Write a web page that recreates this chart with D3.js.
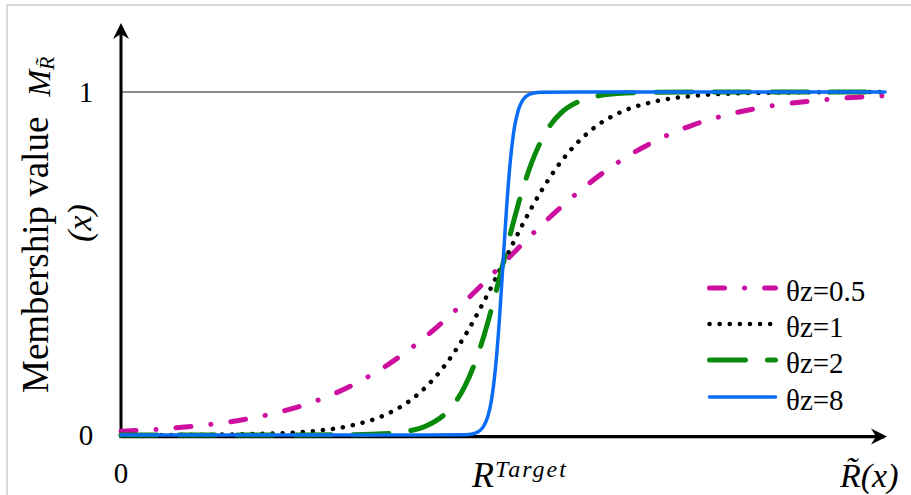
<!DOCTYPE html>
<html>
<head>
<meta charset="utf-8">
<script src="https://cdn.jsdelivr.net/npm/d3@7"></script>
<style>
  body { margin: 0; background: #fff; }
  text { font-family: "Liberation Serif", "Times New Roman", serif; fill: #000; }
</style>
</head>
<body>
<div id="chart"></div>
<script>
// values (x from 0 to 10, R target at 5)
var seriesNames = ["θz=0.5", "θz=1", "θz=2", "θz=8"];

var xPink = [0, 0.5, 1, 1.5, 2, 2.5, 3, 3.5, 4, 4.5, 5, 5.5, 6, 6.5, 7, 7.5, 8, 8.5, 9, 9.5, 10];
var yPink = [0.011, 0.017, 0.027, 0.041, 0.063, 0.095, 0.142, 0.206, 0.289, 0.389, 0.5,
             0.611, 0.711, 0.794, 0.858, 0.905, 0.937, 0.959, 0.973, 0.983, 0.989];

var xBlack = [0, 1, 2, 2.5, 3, 3.5, 3.75, 4, 4.25, 4.5, 4.75, 5, 5.25, 5.5, 5.75, 6, 6.25, 6.5, 7, 7.5, 8, 9, 10];
var yBlack = [0, 0.0007, 0.0045, 0.011, 0.027, 0.063, 0.095, 0.142, 0.206, 0.289, 0.389, 0.5,
              0.611, 0.711, 0.794, 0.858, 0.905, 0.937, 0.973, 0.989, 0.9955, 0.9993, 1];

var xGreen = [0, 2, 3, 3.5, 3.75, 4, 4.25, 4.375, 4.5, 4.625, 4.75, 4.875, 5, 5.125, 5.25, 5.375,
              5.5, 5.625, 5.75, 6, 6.25, 6.5, 7, 8, 10];
var yGreen = [0, 0, 0.0007, 0.0045, 0.011, 0.027, 0.063, 0.095, 0.142, 0.206, 0.289, 0.389, 0.5,
              0.611, 0.711, 0.794, 0.858, 0.905, 0.937, 0.973, 0.989, 0.9955, 0.9993, 1, 1];

var xBlue = [0, 4, 4.5, 4.6, 4.7, 4.75, 4.8, 4.85, 4.9, 4.95, 5, 5.05, 5.1, 5.15, 5.2, 5.25, 5.3, 5.4, 5.5, 6, 10];
var yBlue = [0, 0, 0.0007, 0.003, 0.013, 0.027, 0.053, 0.103, 0.192, 0.327, 0.5,
             0.673, 0.808, 0.897, 0.947, 0.973, 0.987, 0.997, 0.9993, 1, 1];

var yTicks = [0, 1];

width = 911;
height = 495;

var svg = d3.select("div#chart")
  .append("svg")
  .attr("width", width)
  .attr("height", height);

x = d3.scaleLinear().domain([0, 10]).range([121, 885]);
y = d3.scaleLinear().domain([0, 1]).range([435, 92]);

// light frame, only top and left show
svg.append("path")
  .attr("d", "M7,495 L7,5 L911,5")
  .attr("fill", "none")
  .attr("stroke", "#d9d9d9")
  .attr("stroke-width", 2);

// grey line at 1 and grey base line
svg.append("line")
  .attr("x1", x(0)).attr("x2", x(10))
  .attr("y1", y(1)).attr("y2", y(1))
  .attr("stroke", "#8c8c8c")
  .attr("stroke-width", 2);

svg.append("line")
  .attr("x1", x(0)).attr("x2", x(10))
  .attr("y1", y(0) + 3.5).attr("y2", y(0) + 3.5)
  .attr("stroke", "#bbbbbb")
  .attr("stroke-width", 1);

// axes with arrow heads
svg.append("line")
  .attr("x1", x(0)).attr("x2", x(0))
  .attr("y1", y(0) + 3).attr("y2", 34)
  .attr("stroke", "#000")
  .attr("stroke-width", 3);
svg.append("path")
  .attr("d", "M121,23 L129,39 L121,34 L113,39 Z")
  .attr("fill", "#000");

svg.append("line")
  .attr("x1", x(0) - 1.5).attr("x2", 876)
  .attr("y1", y(0) + 1.5).attr("y2", y(0) + 1.5)
  .attr("stroke", "#000")
  .attr("stroke-width", 3);
svg.append("path")
  .attr("d", "M887,436.5 L871,444.5 L876,436.5 L871,428.5 Z")
  .attr("fill", "#000");

// tick labels
svg.selectAll("text.ytick")
  .data(yTicks)
  .join("text")
  .attr("class", "ytick")
  .attr("x", 86)
  .attr("y", (d) => y(d) + 10)
  .attr("text-anchor", "middle")
  .style("font-size", "29px")
  .text((d) => d);

svg.append("text")
  .attr("x", x(0))
  .attr("y", 483)
  .attr("text-anchor", "middle")
  .style("font-size", "29px")
  .text("0");

// x labels
var rt = svg.append("text")
  .attr("x", 472)
  .attr("y", 487)
  .style("font-size", "36px")
  .style("font-style", "italic");
rt.append("tspan").text("R");
rt.append("tspan")
  .attr("dy", -10)
  .attr("dx", 1)
  .style("font-size", "24px")
  .style("letter-spacing", "2px")
  .text("Target");

svg.append("text")
  .attr("x", 840)
  .attr("y", 487)
  .style("font-size", "34px")
  .style("font-style", "italic")
  .text("R\u0303(x)");

// y label, two lines
var yl = svg.append("text")
  .attr("transform", "translate(48,393) rotate(-90)")
  .style("font-size", "37px");
yl.append("tspan").text("Membership value");
yl.append("tspan")
  .attr("dx", 20)
  .attr("dy", 2)
  .style("font-size", "32px")
  .style("font-style", "italic")
  .text("M");
yl.append("tspan")
  .attr("dy", 4)
  .style("font-size", "22px")
  .style("font-style", "italic")
  .text("R\u0303");

svg.append("text")
  .attr("transform", "translate(91,223) rotate(-90)")
  .attr("text-anchor", "middle")
  .style("font-size", "34px")
  .style("font-style", "italic")
  .text("(x)");

// curves
var styles = [
  { xs: xPink, ys: yPink, color: "#cc0f9e", width: 5, dash: "15 20 0.1 20" },
  { xs: xBlack, ys: yBlack, color: "#000000", width: 4.5, dash: "0.1 10" },
  { xs: xGreen, ys: yGreen, color: "#0a8a0a", width: 5, dash: "36 22" },
  { xs: xBlue, ys: yBlue, color: "#0a6cf5", width: 3.5, dash: null }
];

line = d3.line()
  .x((d) => x(d[0]))
  .y((d) => y(d[1]))
  .curve(d3.curveMonotoneX);

styles.forEach(function (s) {
  svg.append("path")
    .datum(d3.zip(s.xs, s.ys))
    .attr("fill", "none")
    .attr("stroke", s.color)
    .attr("stroke-width", s.width)
    .attr("stroke-linecap", "round")
    .attr("stroke-linejoin", "round")
    .attr("stroke-dasharray", s.dash)
    .attr("d", line);
});

// legend
var rows = [288, 324, 360, 397];
styles.forEach(function (s, i) {
  svg.append("line")
    .attr("x1", 709.5).attr("x2", 775.5)
    .attr("y1", rows[i]).attr("y2", rows[i])
    .attr("stroke", s.color)
    .attr("stroke-width", s.width)
    .attr("stroke-linecap", "round")
    .attr("stroke-dasharray", s.dash);
  svg.append("text")
    .attr("x", 786)
    .attr("y", rows[i] + 13)
    .style("font-size", "29px")
    .text(seriesNames[i]);
});
</script>
</body>
</html>
